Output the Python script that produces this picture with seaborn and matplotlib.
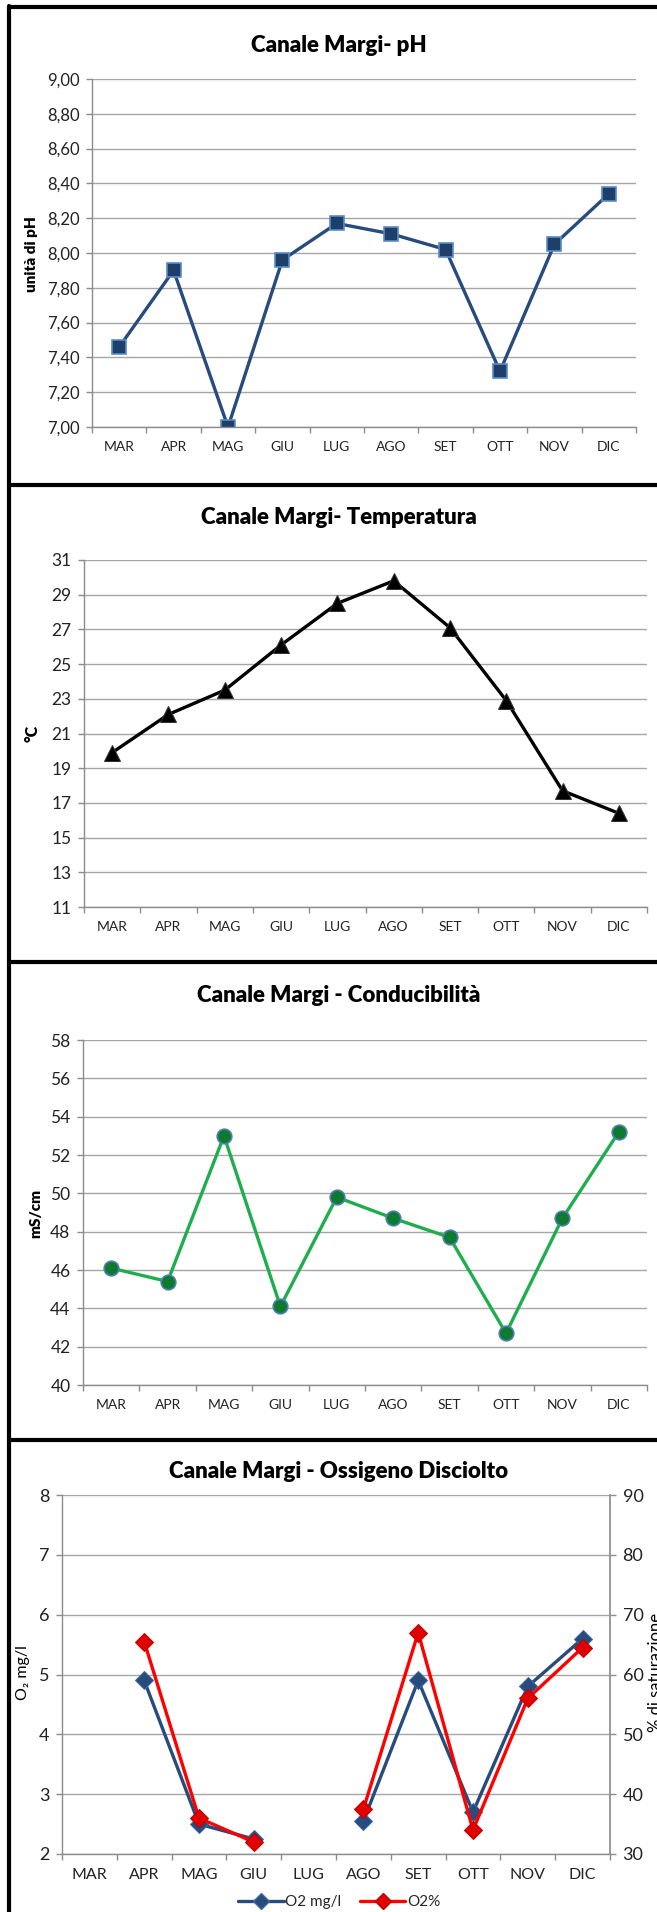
#!/usr/bin/env python
"""
Canale Margi - monthly water quality charts (pH, temperature, conductivity, dissolved oxygen)
"""

import numpy as np
import pandas as pd
import seaborn as sns
import matplotlib.pyplot as plt
from matplotlib.lines import Line2D
from matplotlib.ticker import FixedLocator

## data
months = ["MAR", "APR", "MAG", "GIU", "LUG", "AGO", "SET", "OTT", "NOV", "DIC"]
ph_values = [7.46, 7.90, 7.00, 7.96, 8.17, 8.11, 8.02, 7.32, 8.05, 8.34]
temp_values = [19.9, 22.1, 23.5, 26.1, 28.5, 29.8, 27.1, 22.9, 17.7, 16.4]
cond_values = [46.1, 45.4, 53.0, 44.1, 49.8, 48.7, 47.7, 42.7, 48.7, 53.2]
o2_mgl = [np.nan, 4.9, 2.5, 2.25, np.nan, 2.55, 4.9, 2.7, 4.8, 5.6]
o2_pct = [np.nan, 65.5, 36.0, 32.0, np.nan, 37.5, 67.0, 34.0, 56.0, 64.5]

ph_ticks = [7.0, 7.2, 7.4, 7.6, 7.8, 8.0, 8.2, 8.4, 8.6, 8.8, 9.0]
temp_ticks = [11, 13, 15, 17, 19, 21, 23, 25, 27, 29, 31]
cond_ticks = [40, 42, 44, 46, 48, 50, 52, 54, 56, 58]
o2_ticks = [2, 3, 4, 5, 6, 7, 8]
pct_ticks = [30, 40, 50, 60, 70, 80, 90]

## style
sns.set_theme(style="white")
FONT = ["Lato", "DejaVu Sans"]
plt.rcParams["font.family"] = FONT
GRID = "#a6a6a6"
AXIS = "#8c8c8c"
TXT = "#222222"

W, H = 657, 1912
fig = plt.figure(figsize=(W / 100, H / 100), dpi=100)


def px_axes(left, top, right, bottom):
    """axes from pixel box"""
    return fig.add_axes([left / W, 1 - bottom / H, (right - left) / W, (bottom - top) / H])


def to_long(values, name):
    """long frame with a segment id so NaN gaps break the line"""
    df = pd.DataFrame({"pos": np.arange(len(months)), "value": values})
    df["segment"] = df["value"].isna().cumsum()
    df["series"] = name
    return df.dropna()


def style_axes(ax, ticks, fmt, labelsize=12.5):
    ax.set_xlim(-0.5, len(months) - 0.5)
    ax.set_ylim(ticks[0], ticks[-1])
    ax.set_yticks(ticks)
    ax.set_yticklabels([fmt(t) for t in ticks], fontsize=labelsize, color=TXT)
    ax.set_xticks(range(len(months)))
    ax.set_xticklabels(months, fontsize=10, color=TXT)
    ax.xaxis.set_minor_locator(FixedLocator(np.arange(-0.5, len(months), 1.0)))
    ax.tick_params(axis="x", which="major", length=0, pad=10)
    ax.tick_params(axis="x", which="minor", length=4, color=AXIS, width=1, direction="out", bottom=True)
    ax.tick_params(axis="y", length=4, color=AXIS, width=1, direction="out", left=True, pad=5)
    ax.grid(axis="y", color=GRID, linewidth=1)
    ax.set_axisbelow(True)
    for s in ["top", "right"]:
        ax.spines[s].set_visible(False)
    for s in ["left", "bottom"]:
        ax.spines[s].set_color(AXIS)
        ax.spines[s].set_linewidth(1)
    ax.set_xlabel("")
    ax.set_ylabel("")


def title(text, y):
    fig.text(339 / W, 1 - y / H, text, ha="center", va="center", fontsize=16,
             fontweight="heavy", color="black")


def ylabel(text, x, y, bold=True, rot=90, size=11):
    fig.text(x / W, 1 - y / H, text, ha="center", va="center", rotation=rot,
             fontsize=size, fontweight="heavy" if bold else "normal", color="black")


## pH
ax1 = px_axes(92, 79, 636, 427)
sns.lineplot(data=to_long(ph_values, "pH"), x="pos", y="value", ax=ax1,
             color="#264b7c", linewidth=2.4, marker="s", markersize=10.5,
             markerfacecolor="#1f3f6b", markeredgecolor="#5b8bc7", markeredgewidth=1.2)
style_axes(ax1, ph_ticks, lambda t: f"{t:.2f}".replace(".", ","), labelsize=12)
title("Canale Margi- pH", 45)
ylabel("unità di pH", 31, 254)

## temperature
ax2 = px_axes(84, 560, 647, 907)
sns.lineplot(data=to_long(temp_values, "T"), x="pos", y="value", ax=ax2,
             color="black", linewidth=2.4, marker="^", markersize=12,
             markerfacecolor="black", markeredgecolor="#333333")
style_axes(ax2, temp_ticks, lambda t: f"{t:d}")
title("Canale Margi- Temperatura", 518)
ylabel("°C", 33, 733, size=11.5)

## conductivity
ax3 = px_axes(83, 1040, 647, 1385)
sns.lineplot(data=to_long(cond_values, "C"), x="pos", y="value", ax=ax3,
             color="#1fae4e", linewidth=2.4, marker="o", markersize=10.5,
             markerfacecolor="#0d7a30", markeredgecolor="#4f7fb0", markeredgewidth=1.2)
style_axes(ax3, cond_ticks, lambda t: f"{t:d}")
title("Canale Margi - Conducibilità", 995)
ylabel("mS/cm", 36, 1213)

## dissolved oxygen
ax4 = px_axes(62, 1495, 610, 1854)
sns.lineplot(data=to_long(o2_mgl, "O2 mg/l"), x="pos", y="value", units="segment",
             estimator=None, ax=ax4, color="#264b7c", linewidth=2.4, marker="D",
             markersize=9.5, markerfacecolor="#264b7c", markeredgecolor="#3f6aa0")
style_axes(ax4, o2_ticks, lambda t: f"{t:d}", labelsize=13)
ax4.tick_params(axis="x", labelsize=11.5)

ax4b = ax4.twinx()
sns.lineplot(data=to_long(o2_pct, "O2%"), x="pos", y="value", units="segment",
             estimator=None, ax=ax4b, color="#ff0000", linewidth=2.4, marker="D",
             markersize=9.5, markerfacecolor="#e00000", markeredgecolor="#c00000")
ax4b.set_ylim(pct_ticks[0], pct_ticks[-1])
ax4b.set_yticks(pct_ticks)
ax4b.set_yticklabels([str(t) for t in pct_ticks], fontsize=13, color=TXT)
ax4b.tick_params(axis="y", length=4, color=AXIS, width=1, direction="out", right=True, pad=5)
for s in ["top", "left", "bottom"]:
    ax4b.spines[s].set_visible(False)
ax4b.spines["right"].set_color(AXIS)
ax4b.set_ylabel("")
ax4b.grid(False)

title("Canale Margi - Ossigeno Disciolto", 1472)
fig.text(23 / W, 1 - 1673 / H, "O₂ mg/l", ha="center", va="center", rotation=90,
         fontsize=11.5, color="black", family=FONT)
# right axis title, cut by the image edge as in the original
ylabel("% di saturazione", 656, 1672, bold=False, size=12)

handles = [
    Line2D([], [], color="#264b7c", linewidth=2.4, marker="D", markersize=8,
           markerfacecolor="#264b7c", markeredgecolor="#3f6aa0"),
    Line2D([], [], color="#ff0000", linewidth=2.4, marker="D", markersize=8,
           markerfacecolor="#e00000", markeredgecolor="#c00000"),
]
fig.legend(handles, ["O2 mg/l", "O2%"], loc="center", bbox_to_anchor=(339 / W, 1 - 1902 / H),
           ncol=2, frameon=False, fontsize=11, handlelength=3.0, handletextpad=0.1,
           columnspacing=1.2)

## panel borders
def hline(y, x0=9, x1=W):
    fig.add_artist(Line2D([x0 / W, x1 / W], [1 - y / H, 1 - y / H],
                          transform=fig.transFigure, color="black", linewidth=3))

for y in [7, 485, 962, 1440]:
    hline(y)
fig.add_artist(Line2D([9 / W, 9 / W], [1 - 6 / H, 0], transform=fig.transFigure,
                      color="black", linewidth=3))

fig.savefig("out.png", dpi=100)
